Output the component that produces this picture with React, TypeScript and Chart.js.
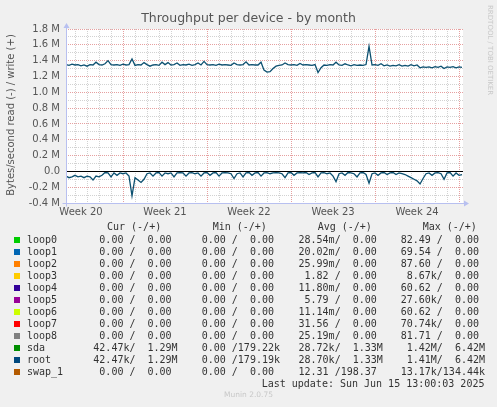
import React, { useEffect, useRef } from 'react';
import { Chart, registerables } from 'chart.js';

Chart.register(...registerables);

// ---- data (MB/s), one sample every 6 hours over the month ----
const sampleStepDays = 0.25;
const rootWrite = [
  1.35, 1.34, 1.355, 1.345, 1.35, 1.335, 1.345, 1.33, 1.35, 1.345,
  1.38, 1.35, 1.345, 1.36, 1.40, 1.35, 1.345, 1.35, 1.34, 1.355,
  1.345, 1.35, 1.42, 1.34, 1.35, 1.345, 1.375, 1.35, 1.33, 1.345,
  1.35, 1.34, 1.38, 1.35, 1.375, 1.345, 1.35, 1.37, 1.34, 1.35,
  1.345, 1.355, 1.34, 1.35, 1.37, 1.345, 1.39, 1.35, 1.345, 1.35,
  1.34, 1.355, 1.345, 1.35, 1.345, 1.34, 1.37, 1.35, 1.345, 1.35,
  1.385, 1.345, 1.35, 1.345, 1.345, 1.38, 1.28, 1.255, 1.26, 1.30,
  1.33, 1.34, 1.345, 1.37, 1.35, 1.345, 1.35, 1.34, 1.365, 1.345,
  1.35, 1.345, 1.34, 1.35, 1.25, 1.31, 1.345, 1.34, 1.35, 1.345,
  1.38, 1.345, 1.34, 1.36, 1.345, 1.335, 1.35, 1.34, 1.345, 1.34,
  1.35, 1.58, 1.345, 1.35, 1.34, 1.36, 1.335, 1.345, 1.33, 1.34,
  1.335, 1.35, 1.33, 1.34, 1.33, 1.35, 1.335, 1.345, 1.31, 1.32,
  1.315, 1.32, 1.31, 1.325, 1.315, 1.33, 1.30, 1.32, 1.315, 1.325,
  1.31, 1.32, 1.315,
];
const rootRead = [
  -0.06, -0.08, -0.07, -0.05, -0.07, -0.06, -0.08, -0.06, -0.07, -0.11,
  -0.06, -0.07, -0.05, -0.015, -0.02, -0.07, -0.02, -0.05, -0.02, -0.03,
  -0.02, -0.06, -0.31, -0.08, -0.11, -0.14, -0.10, -0.03, -0.02, -0.06,
  -0.02, -0.015, -0.06, -0.02, -0.03, -0.02, -0.07, -0.02, -0.015, -0.02,
  -0.06, -0.02, -0.015, -0.03, -0.02, -0.06, -0.02, -0.015, -0.05, -0.02,
  -0.015, -0.06, -0.02, -0.015, -0.02, -0.03, -0.09, -0.03, -0.02, -0.07,
  -0.02, -0.015, -0.05, -0.02, -0.015, -0.06, -0.02, -0.015, -0.03, -0.02,
  -0.015, -0.02, -0.03, -0.08, -0.02, -0.015, -0.05, -0.02, -0.015, -0.02,
  -0.015, -0.04, -0.02, -0.015, -0.07, -0.02, -0.015, -0.03, -0.02, -0.06,
  -0.13, -0.03, -0.02, -0.05, -0.015, -0.02, -0.03, -0.07, -0.02, -0.015,
  -0.04, -0.15, -0.03, -0.02, -0.05, -0.02, -0.015, -0.04, -0.02, -0.015,
  -0.04, -0.02, -0.03, -0.04, -0.06, -0.08, -0.10, -0.12, -0.16, -0.09,
  -0.03, -0.02, -0.05, -0.02, -0.015, -0.03, -0.10, -0.02, -0.015, -0.06,
  -0.02, -0.05, -0.04,
];

// ---- axes ----
const spanDays = 33.08;
const weekStarts = [4.75, 11.75, 18.75, 25.75, 32.75];
const weekLabels = ['Week 20', 'Week 21', 'Week 22', 'Week 23', 'Week 24'];
const yMin = -0.4;
const yMax = 1.8;

// ---- legend table ----
const seriesNames = ['loop0', 'loop1', 'loop2', 'loop3', 'loop4', 'loop5', 'loop6', 'loop7', 'loop8', 'sda', 'root', 'swap_1'];
const seriesColors = ['#00CC00', '#0066B3', '#FF8000', '#FFCC00', '#330099', '#990099', '#CCFF00', '#FF0000', '#808080', '#008F00', '#00487D', '#B35A00'];
const curRead = ['0.00', '0.00', '0.00', '0.00', '0.00', '0.00', '0.00', '0.00', '0.00', '42.47k', '42.47k', '0.00'];
const curWrite = ['0.00', '0.00', '0.00', '0.00', '0.00', '0.00', '0.00', '0.00', '0.00', '1.29M', '1.29M', '0.00'];
const minRead = ['0.00', '0.00', '0.00', '0.00', '0.00', '0.00', '0.00', '0.00', '0.00', '0.00', '0.00', '0.00'];
const minWrite = ['0.00', '0.00', '0.00', '0.00', '0.00', '0.00', '0.00', '0.00', '0.00', '179.22k', '179.19k', '0.00'];
const avgRead = ['28.54m', '20.02m', '25.99m', '1.82', '11.80m', '5.79', '11.14m', '31.56', '25.19m', '28.72k', '28.70k', '12.31'];
const avgWrite = ['0.00', '0.00', '0.00', '0.00', '0.00', '0.00', '0.00', '0.00', '0.00', '1.33M', '1.33M', '198.37'];
const maxRead = ['82.49', '69.54', '87.60', '8.67k', '60.62', '27.60k', '60.62', '70.74k', '81.71', '1.42M', '1.41M', '13.17k'];
const maxWrite = ['0.00', '0.00', '0.00', '0.00', '0.00', '0.00', '0.00', '0.00', '0.00', '6.42M', '6.42M', '134.44k'];
const lastUpdate = 'Last update: Sun Jun 15 13:00:03 2025';

const fmt = (s: string) => {
  const last = s[s.length - 1];
  const hasUnit = /[a-zA-Z]/.test(last);
  const num = hasUnit ? s.slice(0, -1) : s;
  return num.padStart(6, ' ') + (hasUnit ? last : ' ');
};

const near = (a: number, b: number) => Math.abs(a - b) < 1e-6;
const MAJOR = '#e6a0a0';
const MINOR = '#d2d2d2';
const AXIS = '#b8c0f0';

export default function App() {
  const ref = useRef<HTMLCanvasElement | null>(null);

  useEffect(() => {
    const canvas = ref.current;
    if (!canvas) return;

    const weekMids = weekStarts.map((w) => w - 3.5);
    const dayLines: number[] = [];
    for (let d = weekStarts[0] % 1; d <= spanDays; d += 1) dayLines.push(Math.round(d * 100) / 100);
    const xTicks = [...dayLines, ...weekMids].sort((a, b) => a - b);
    const yTicks: number[] = [];
    for (let k = Math.round(yMin * 10); k <= Math.round(yMax * 10); k++) yTicks.push(k / 10);

    const isMid = (v: number) => weekMids.some((m) => near(m, v));
    const isWeek = (v: number) => weekStarts.some((m) => near(m, v));
    const isMajorY = (v: number) => Math.round(v * 10) % 2 === 0;

    const writePts = rootWrite.map((y, i) => ({ x: i * sampleStepDays, y }));
    const readPts = rootRead.map((y, i) => ({ x: i * sampleStepDays, y }));

    const decor = {
      id: 'decor',
      beforeDraw(chart: any) {
        const { ctx, chartArea: a } = chart;
        ctx.save();
        ctx.fillStyle = '#ffffff';
        ctx.fillRect(a.left, a.top, a.right - a.left, a.bottom - a.top);
        ctx.restore();
      },
      afterDraw(chart: any) {
        const { ctx, chartArea: a, scales } = chart;
        const y0 = Math.round(scales.y.getPixelForValue(0)) + 0.5;
        ctx.save();
        ctx.strokeStyle = '#000000';
        ctx.lineWidth = 1;
        ctx.beginPath();
        ctx.moveTo(a.left, y0);
        ctx.lineTo(a.right, y0);
        ctx.stroke();
        // axes
        ctx.strokeStyle = AXIS;
        ctx.fillStyle = AXIS;
        const L = Math.round(a.left) + 0.5;
        const B = Math.round(a.bottom) + 0.5;
        ctx.beginPath();
        ctx.moveTo(L, B + 3);
        ctx.lineTo(L, a.top - 2);
        ctx.moveTo(L - 4, B);
        ctx.lineTo(a.right + 2, B);
        ctx.stroke();
        ctx.beginPath();
        ctx.moveTo(L - 3, a.top - 1);
        ctx.lineTo(L + 3, a.top - 1);
        ctx.lineTo(L, a.top - 6);
        ctx.closePath();
        ctx.fill();
        ctx.beginPath();
        ctx.moveTo(a.right + 1, B - 3);
        ctx.lineTo(a.right + 1, B + 3);
        ctx.lineTo(a.right + 6, B);
        ctx.closePath();
        ctx.fill();
        ctx.restore();
      },
    };

    const chart = new Chart(canvas, {
      type: 'line',
      data: {
        datasets: [
          { label: 'root write', data: writePts, borderColor: '#0c5070', borderWidth: 1.3, pointRadius: 0, fill: false, tension: 0 },
          { label: 'root read', data: readPts, borderColor: '#0c5070', borderWidth: 1.3, pointRadius: 0, fill: false, tension: 0 },
        ],
      },
      options: {
        animation: false,
        responsive: false,
        events: [],
        layout: { padding: { left: 0, right: 34, top: 29, bottom: 0 } },
        plugins: { legend: { display: false }, title: { display: false }, tooltip: { enabled: false } },
        scales: {
          x: {
            type: 'linear',
            min: 0,
            max: spanDays,
            afterBuildTicks: (s: any) => { s.ticks = xTicks.map((v) => ({ value: v })); },
            afterFit: (s: any) => { s.height = 204; },
            grid: {
              drawTicks: false,
              lineWidth: 1,
              color: (c: any) => {
                const v = c.tick ? c.tick.value : 0;
                if (isMid(v)) return 'rgba(0,0,0,0)';
                return isWeek(v) ? MAJOR : MINOR;
              },
            },
            border: { display: false, dash: [1, 1] },
            ticks: {
              autoSkip: false,
              maxRotation: 0,
              minRotation: 0,
              padding: 3,
              color: '#555555',
              font: { family: 'DejaVu Sans', size: 10 },
              callback: (v: any) => {
                const i = weekMids.findIndex((m) => near(m, Number(v)));
                return i >= 0 ? weekLabels[i] : '';
              },
            },
          },
          y: {
            type: 'linear',
            min: yMin,
            max: yMax,
            afterBuildTicks: (s: any) => { s.ticks = yTicks.map((v) => ({ value: v })); },
            afterFit: (s: any) => { s.width = 66; },
            grid: {
              drawTicks: false,
              lineWidth: 1,
              color: (c: any) => {
                const v = c.tick ? c.tick.value : 0;
                return isMajorY(v) ? MAJOR : MINOR;
              },
            },
            border: { display: false, dash: [1, 1] },
            ticks: {
              autoSkip: false,
              padding: 6,
              color: '#555555',
              font: { family: 'DejaVu Sans', size: 10 },
              callback: (v: any) => {
                const n = Number(v);
                if (!isMajorY(n)) return '';
                if (near(n, 0)) return '0.0';
                return n.toFixed(1) + ' M';
              },
            },
          },
        },
      },
      plugins: [decor],
    } as any);

    return () => chart.destroy();
  }, []);

  const mono = "'DejaVu Sans Mono', monospace";
  const sans = "'DejaVu Sans', sans-serif";
  const rowTop = 234;
  const rowH = 12;
  const cols = [87.3, 189.7, 292.5, 394.7];
  const heads = [
    { t: 'Cur (-/+)', x: 107 },
    { t: 'Min (-/+)', x: 212.7 },
    { t: 'Avg (-/+)', x: 317.7 },
    { t: 'Max (-/+)', x: 422.7 },
  ];
  const txt: React.CSSProperties = { position: 'absolute', whiteSpace: 'pre', fontFamily: mono, fontSize: 10, lineHeight: '12px', color: '#333333' };

  return (
    <div style={{ position: 'fixed', left: 0, top: 0, width: 497, height: 407, background: '#f0f0f0', overflow: 'hidden' }}>
      <canvas ref={ref} width={497} height={407} style={{ position: 'absolute', left: 0, top: 0, width: 497, height: 407 }} />
      <div style={{ position: 'absolute', left: 0, width: 497, top: 10, textAlign: 'center', fontFamily: sans, fontSize: 12.5, lineHeight: '16px', color: '#555555' }}>
        Throughput per device - by month
      </div>
      <div style={{ position: 'absolute', left: 11, top: 115, width: 0, height: 0 }}>
        <div style={{ position: 'absolute', left: -120, top: -7, width: 240, textAlign: 'center', transform: 'rotate(-90deg)', fontFamily: sans, fontSize: 10, lineHeight: '14px', color: '#555555', whiteSpace: 'nowrap' }}>
          Bytes/second read (-) / write (+)
        </div>
      </div>
      <div style={{ position: 'absolute', left: 485, top: 5, writingMode: 'vertical-rl', fontFamily: sans, fontSize: 7, lineHeight: '9px', color: '#c8c8c8', whiteSpace: 'nowrap' }}>
        RRDTOOL / TOBI OETIKER
      </div>
      {heads.map((h) => (
        <div key={h.t} style={{ ...txt, left: h.x, top: 221 }}>{h.t}</div>
      ))}
      {seriesNames.map((n, i) => (
        <React.Fragment key={n}>
          <div style={{ position: 'absolute', left: 14, top: rowTop + i * rowH + 3, width: 6, height: 6, background: seriesColors[i] }} />
          <div style={{ ...txt, left: 27, top: rowTop + i * rowH }}>{n}</div>
          <div style={{ ...txt, left: cols[0], top: rowTop + i * rowH }}>{fmt(curRead[i]) + '/' + fmt(curWrite[i])}</div>
          <div style={{ ...txt, left: cols[1], top: rowTop + i * rowH }}>{fmt(minRead[i]) + '/' + fmt(minWrite[i])}</div>
          <div style={{ ...txt, left: cols[2], top: rowTop + i * rowH }}>{fmt(avgRead[i]) + '/' + fmt(avgWrite[i])}</div>
          <div style={{ ...txt, left: cols[3], top: rowTop + i * rowH }}>{fmt(maxRead[i]) + '/' + fmt(maxWrite[i])}</div>
        </React.Fragment>
      ))}
      <div style={{ ...txt, left: 261.7, top: 378 }}>{lastUpdate}</div>
      <div style={{ position: 'absolute', left: 0, width: 497, top: 390, textAlign: 'center', fontFamily: sans, fontSize: 7.5, lineHeight: '10px', color: '#c8c8c8' }}>
        Munin 2.0.75
      </div>
    </div>
  );
}
